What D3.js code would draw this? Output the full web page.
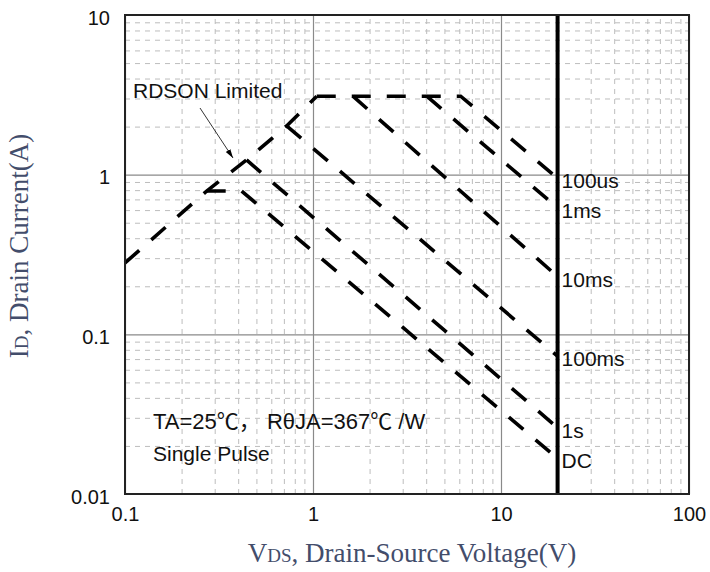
<!DOCTYPE html>
<html>
<head>
<meta charset="utf-8">
<script src="https://cdn.jsdelivr.net/npm/d3@7/dist/d3.min.js"></script>
<style>
  body { margin: 0; background: #fff; }
  svg { display: block; }
  .lbl { font-family: "Liberation Sans", Arial, "Noto Sans CJK SC", sans-serif; font-size: 21px; fill: #111; }
  .title { font-family: "Liberation Serif", "Times New Roman", serif; font-size: 27px; fill: #434d6b; }
</style>
</head>
<body>
<div id="chart"></div>
<script>
// Axis ticks
var vTicks = [0.1, 1, 10, 100];
var iTicks = [0.01, 0.1, 1, 10];

// SOA curves (V in volts, I in amps)
var rdsonV = [0.1, 0.272, 0.443, 0.724, 1.047];
var rdsonI = [0.28, 0.79, 1.236, 2.02, 3.1];
var us100V = [1.047, 6.1, 20];
var us100I = [3.1, 3.1, 0.95];
var ms1V = [4.03, 20];
var ms1I = [3.1, 0.62];
var ms10V = [1.63, 20];
var ms10I = [3.1, 0.23];
var ms100V = [0.724, 20];
var ms100I = [2.02, 0.073];
var s1V = [0.443, 20];
var s1I = [1.236, 0.026];
var dcV = [0.272, 0.417, 20];
var dcI = [0.79, 0.79, 0.0167];

// Curve labels and the drain-source limit
var curveNames = ["100us", "1ms", "10ms", "100ms", "1s", "DC"];
var curveLabelI = [0.95, 0.62, 0.23, 0.073, 0.026, 0.0167];
var vdsMax = 20;

var margin = {top: 15, right: 21, bottom: 78, left: 125};
var width = 710 - margin.left - margin.right;
var height = 572 - margin.top - margin.bottom;

var svg = d3.select("#chart")
    .append("svg")
    .attr("width", 710)
    .attr("height", 572);

var g = svg.append("g").attr("transform", "translate(" + margin.left + "," + margin.top + ")");

var x = d3.scaleLog().domain([0.1, 100]).range([0, width]);
var y = d3.scaleLog().domain([0.01, 10]).range([height, 0]);

function isMajor(v) {
    return Math.abs(Math.log10(v) - Math.round(Math.log10(v))) < 1e-6;
}

// Minor grid (dashed)
var minorX = x.ticks().filter(function(d) { return !isMajor(d); });
var minorY = y.ticks().filter(function(d) { return !isMajor(d); });

g.append("g")
    .attr("class", "grid-minor")
    .attr("transform", "translate(0," + height + ")")
    .call(d3.axisBottom(x).tickValues(minorX).tickSize(-height).tickFormat(""));
g.append("g")
    .attr("class", "grid-minor")
    .call(d3.axisLeft(y).tickValues(minorY).tickSize(-width).tickFormat(""));

g.selectAll(".grid-minor .domain").remove();
g.selectAll(".grid-minor line")
    .attr("stroke", "#bdbdbd")
    .attr("stroke-width", 1)
    .attr("stroke-dasharray", "5,5");

// Major grid
g.append("g")
    .attr("class", "grid-major")
    .attr("transform", "translate(0," + height + ")")
    .call(d3.axisBottom(x).tickValues(vTicks).tickSize(-height).tickFormat(""));
g.append("g")
    .attr("class", "grid-major")
    .call(d3.axisLeft(y).tickValues(iTicks).tickSize(-width).tickFormat(""));

g.selectAll(".grid-major .domain").remove();
g.selectAll(".grid-major line")
    .attr("stroke", "#8a8a8a")
    .attr("stroke-width", 1.2);

// Tick labels
var xAxis = g.append("g")
    .attr("transform", "translate(0," + height + ")")
    .call(d3.axisBottom(x).tickValues(vTicks).tickSize(0).tickPadding(0)
        .tickFormat(function(d) { return String(d); }));
var yAxis = g.append("g")
    .call(d3.axisLeft(y).tickValues(iTicks).tickSize(0).tickPadding(0)
        .tickFormat(function(d) { return String(d); }));

xAxis.select(".domain").remove();
yAxis.select(".domain").remove();
xAxis.selectAll("text")
    .attr("class", "lbl")
    .style("font-size", "20px")
    .attr("dy", null)
    .attr("y", 27);
yAxis.selectAll("text")
    .attr("class", "lbl")
    .style("font-size", "20px")
    .attr("dy", null)
    .attr("x", -15)
    .attr("y", 9);

// DC drain-source limit
g.append("line")
    .attr("x1", x(vdsMax)).attr("x2", x(vdsMax))
    .attr("y1", 0).attr("y2", height)
    .attr("stroke", "#000")
    .attr("stroke-width", 4);

// Curves
var line = d3.line()
    .x(function(d) { return x(d[0]); })
    .y(function(d) { return y(d[1]); });

var curves = [
    [rdsonV, rdsonI],
    [us100V, us100I],
    [ms1V, ms1I],
    [ms10V, ms10I],
    [ms100V, ms100I],
    [s1V, s1I],
    [dcV, dcI]
];

g.selectAll(".soa")
    .data(curves)
    .enter()
    .append("path")
    .attr("class", "soa")
    .attr("d", function(c) { return line(d3.zip(c[0], c[1])); })
    .attr("fill", "none")
    .attr("stroke", "#000")
    .attr("stroke-width", 3.6)
    .attr("stroke-dasharray", "19,16");

// Frame
g.append("rect")
    .attr("width", width)
    .attr("height", height)
    .attr("fill", "none")
    .attr("stroke", "#222")
    .attr("stroke-width", 2);

// Curve labels
g.selectAll(".clabel")
    .data(curveNames)
    .enter()
    .append("text")
    .attr("class", "lbl")
    .attr("x", x(vdsMax) + 4)
    .attr("y", function(d, i) { return y(curveLabelI[i]) + 10; })
    .text(function(d) { return d; });

// Annotations
g.append("text").attr("class", "lbl")
    .attr("x", 8).attr("y", 83)
    .text("RDSON Limited");

svg.append("defs").append("marker")
    .attr("id", "arr")
    .attr("viewBox", "0 0 10 10")
    .attr("refX", 10).attr("refY", 5)
    .attr("markerWidth", 9).attr("markerHeight", 9)
    .attr("markerUnits", "userSpaceOnUse")
    .attr("orient", "auto")
    .append("path")
    .attr("d", "M0,2 L10,5 L0,8 Z")
    .attr("fill", "#000");

g.append("line")
    .attr("x1", 75).attr("y1", 93)
    .attr("x2", 108).attr("y2", 143)
    .attr("stroke", "#000")
    .attr("stroke-width", 0.8)
    .attr("marker-end", "url(#arr)");

g.append("text").attr("class", "lbl")
    .attr("x", 28).attr("y", 414)
    .style("font-size", "22px")
    .text("TA=25\u2103\uff0c R\u03b8JA=367\u2103 /W");
g.append("text").attr("class", "lbl")
    .attr("x", 28).attr("y", 446)
    .text("Single Pulse");

// Axis titles
var xt = svg.append("text")
    .attr("class", "title")
    .attr("x", 412).attr("y", 562)
    .attr("text-anchor", "middle");
xt.append("tspan").text("V");
xt.append("tspan").style("font-size", "19px").text("DS");
xt.append("tspan").text(", Drain-Source Voltage(V)");

var yt = svg.append("text")
    .attr("class", "title")
    .attr("transform", "translate(28,246) rotate(-90)")
    .attr("text-anchor", "middle");
yt.append("tspan").text("I");
yt.append("tspan").style("font-size", "19px").text("D");
yt.append("tspan").text(", Drain Current(A)");
</script>
</body>
</html>
